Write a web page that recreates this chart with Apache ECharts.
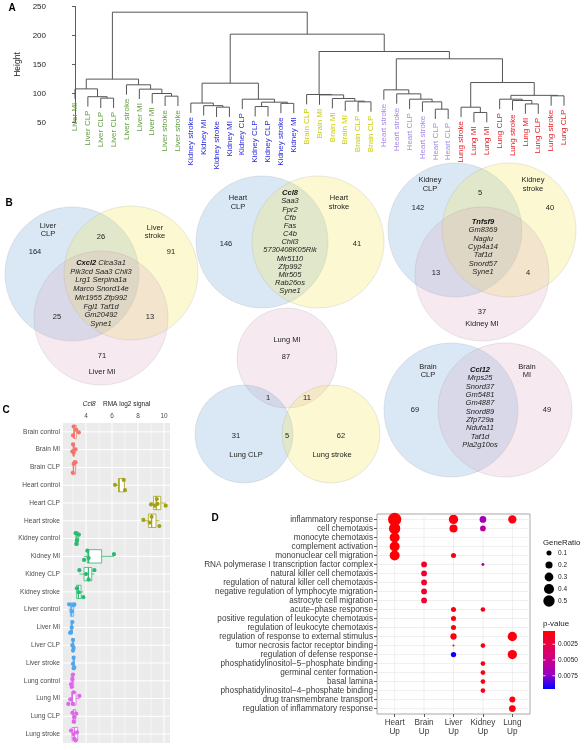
<!DOCTYPE html>
<html><head><meta charset="utf-8">
<script src="https://cdn.jsdelivr.net/npm/echarts@6/dist/echarts.min.js"></script>
<style>html,body{margin:0;padding:0;background:#fff}#c{width:584px;height:750px}</style>
</head><body><div id="c"></div>
<script>
// ================= DATA =================
// Panel A: dendrogram
const dendroLeaves = ['Liver MI','Liver CLP','Liver CLP','Liver CLP','Liver stroke','Liver MI','Liver MI','Liver stroke','Liver stroke',
  'Kidney stroke','Kidney MI','Kidney stroke','Kidney MI','Kidney CLP','Kidney CLP','Kidney CLP','Kidney stroke','Kidney MI',
  'Brain CLP','Brain MI','Brain MI','Brain MI','Brain CLP','Brain CLP',
  'Heart stroke','Heart stroke','Heart CLP','Heart stroke','Heart CLP','Heart CLP',
  'Lung stroke','Lung MI','Lung MI','Lung CLP','Lung stroke','Lung MI','Lung CLP','Lung stroke','Lung CLP'];
const dendroLiver = [[0,[1,[2,3,92],94.5],108],[4,[5,[6,[7,8,95.4],100],107.5],115],124.8];
const dendroKidney = [[9,[10,[11,12,76.5],79],83.5],[13,[[14,15,77.5],[16,17,83],85],90.2],117.8];
const dendroBrain = [18,[19,[20,[21,[22,23,85.6],86.8],91.4],97.6],98.3];
const dendroHeart = [24,[25,[26,[27,[28,29,73],85.6],90.2],99.4],106.3];
const dendroLung = [[30,[31,32,67.3],76.4],[[33,[34,[35,36,82],88],90.2],[37,38,96],96.8],118.9];
const dendroTree = [dendroLiver,[dendroKidney,[dendroBrain,[dendroHeart,dendroLung,159.8],172.4],202.3],240.2];
const dendroTicks = [50,100,150,200,250];

// Panel B: Venn diagrams  (counts: onlyA, onlyB, onlyC, AB, AC, BC)
const vennLiverNames = ['Liver\nCLP','Liver\nstroke','Liver MI'];
const vennLiverCounts = [164, 91, 71, 26, 25, 13];
const vennLiverGenes = ['Cxcl2 Clca3a1','Pik3cd Saa3 Chil3','Lrg1 Serpina1a','Marco Snord14e','Mir1955 Zfp992','Fgl1 Taf1d','Gm20492','Syne1'];
const vennHeartNames = ['Heart\nCLP','Heart\nstroke'];
const vennHeartCounts = [146, 41];
const vennHeartGenes = ['Ccl8','Saa3','Fpr2','Cfb','Fas','C4b','Chil3','5730408K05Rik','Mir5110','Zfp992','Mir505','Rab26os','Syne1'];
const vennKidneyNames = ['Kidney\nCLP','Kidney\nstroke','Kidney MI'];
const vennKidneyCounts = [142, 40, 37, 5, 13, 4];
const vennKidneyGenes = ['Tnfsf9','Gm8369','Naglu','Cyp4a14','Taf1d','Snord57','Syne1'];
const vennLungNames = ['Lung MI','Lung CLP','Lung stroke'];
const vennLungCounts = [87, 31, 62, 1, 11, 5];
const vennBrainNames = ['Brain\nCLP','Brain\nMI'];
const vennBrainCounts = [69, 49];
const vennBrainGenes = ['Ccl12','Mrps25','Snord37','Gm5481','Gm4887','Snord89','Zfp729a','Ndufa11','Taf1d','Pla2g10os'];

// Panel C: Ccl8 boxplots
const boxCategories = ['Brain control','Brain MI','Brain CLP','Heart control','Heart CLP','Heart stroke',
  'Kidney control','Kidney MI','Kidney CLP','Kidney stroke','Liver control','Liver MI','Liver CLP','Liver stroke',
  'Lung control','Lung MI','Lung CLP','Lung stroke'];
// [lower whisker, Q1, median, Q3, upper whisker]
const boxStats = [
  [3.0,3.05,3.1,3.25,3.45],[2.95,3.0,3.05,3.1,3.2],[2.97,3.02,3.05,3.2,3.22],
  [6.23,6.5,6.55,6.95,7.0],[9.0,9.2,9.4,9.75,10.13],[8.41,8.8,9.05,9.38,9.64],
  [3.18,3.22,3.3,3.4,3.5],[3.85,4.1,4.2,5.2,6.15],[3.49,3.85,4.18,4.44,4.64],[3.22,3.28,3.41,3.62,3.79],
  [2.66,2.8,2.9,3.05,3.1],[2.77,2.85,2.9,2.95,3.0],[2.9,2.95,3.0,3.05,3.1],[2.95,3.0,3.05,3.1,3.15],
  [2.82,2.86,2.95,3.05,3.1],[2.64,2.9,2.95,3.23,3.49],[2.95,3.0,3.05,3.2,3.25],[2.88,2.93,3.1,3.36,3.36]
];
// [category index, value, vertical jitter (fraction of band)]
const boxPoints = [
  [0,3.05,-0.3],[0,3.25,-0.12],[0,3.45,0.03],[0,3.0,0.2],
  [1,3.0,-0.3],[1,3.2,-0.02],[1,3.05,0.18],[1,2.95,0.1],
  [2,3.2,-0.28],[2,3.05,-0.2],[2,2.98,0.3],
  [3,6.23,-0.02],[3,7.0,0.28],[3,6.9,-0.3],
  [4,9.0,0.08],[4,9.3,0.15],[4,9.5,0.05],[4,10.13,0.15],[4,9.45,-0.22],
  [5,8.41,-0.05],[5,9.64,0.3],[5,9.05,-0.22],[5,8.9,0.1],
  [6,3.2,-0.3],[6,3.45,-0.22],[6,3.3,0.1],[6,3.25,0.3],
  [7,4.1,-0.32],[7,3.85,0.2],[7,6.15,-0.12],[7,4.2,0.1],
  [8,3.49,-0.22],[8,4.64,-0.22],[8,4.2,0.3],[8,4.0,0.0],
  [9,3.79,0.3],[9,3.3,-0.2],[9,3.45,0.02],
  [10,2.7,-0.3],[10,3.05,-0.25],[10,2.9,0.1],[10,3.1,-0.3],
  [11,2.95,-0.3],[11,2.9,0.0],[11,2.77,0.3],[11,2.85,0.25],
  [12,3.0,-0.3],[12,2.95,0.0],[12,3.05,0.15],[12,3.0,0.3],
  [13,3.05,-0.3],[13,3.0,0.05],[13,3.1,0.25],[13,3.05,0.3],
  [14,3.0,-0.35],[14,2.95,-0.1],[14,2.85,0.2],[14,2.9,0.35],
  [15,3.05,-0.35],[15,3.49,-0.15],[15,2.8,0.05],[15,2.64,0.3],[15,3.0,0.3],
  [16,2.95,-0.2],[16,3.25,-0.15],[16,3.1,0.05],[16,3.05,0.3],
  [17,2.85,-0.2],[17,3.3,-0.1],[17,3.1,0.25],[17,3.2,0.35],[17,3.05,0.0]
];
const boxTicks = [4,6,8,10];
const boxMinorTicks = [3,5,7,9];

// Panel D: GO enrichment dot plot
const goTerms = ['inflammatory response','cell chemotaxis','monocyte chemotaxis','complement activation','mononuclear cell migration',
  'RNA polymerase I transcription factor complex','natural killer cell chemotaxis','regulation of natural killer cell chemotaxis',
  'negative regulation of lymphocyte migration','astrocyte cell migration','acute\u2212phase response',
  'positive regulation of leukocyte chemotaxis','regulation of leukocyte chemotaxis','regulation of response to external stimulus',
  'tumor necrosis factor receptor binding','regulation of defense response','phosphatidylinositol\u22125\u2212phosphate binding',
  'germinal center formation','basal lamina','phosphatidylinositol\u22124\u2212phosphate binding','drug transmembrane transport',
  'regulation of inflammatory response'];
const goColumns = ['Heart\nUp','Brain\nUp','Liver\nUp','Kidney\nUp','Lung\nUp'];
// [column (1-5), term row (1-22), GeneRatio, p-value]
const goDots = [
  [1,1,0.69,0.0005],[1,2,0.50,0.0005],[1,3,0.39,0.0005],[1,4,0.39,0.0005],[1,5,0.39,0.0005],
  [2,6,0.13,0.0017],[2,7,0.13,0.0017],[2,8,0.13,0.0017],[2,9,0.13,0.0017],[2,10,0.13,0.0019],
  [3,1,0.34,0.0008],[3,2,0.25,0.0008],[3,5,0.10,0.0008],[3,11,0.10,0.0008],[3,12,0.10,0.0008],[3,13,0.10,0.0008],
  [3,14,0.155,0.0008],[3,15,0.016,0.0012],[3,16,0.11,0.0094],
  [4,1,0.175,0.0068],[4,2,0.127,0.0058],[4,6,0.035,0.0064],[4,11,0.086,0.0010],[4,15,0.086,0.0010],
  [4,17,0.086,0.0008],[4,18,0.086,0.0008],[4,19,0.086,0.0008],[4,20,0.086,0.0008],
  [5,1,0.27,0.0010],[5,14,0.34,0.0008],[5,16,0.34,0.0008],[5,21,0.14,0.0008],[5,22,0.175,0.0008]
];
const sizeBreaks = [0.1,0.2,0.3,0.4,0.5];
const pBreaks = [0.0025,0.0050,0.0075];
const pRange = [0.0004,0.0096];

// ================= RENDER =================
const FONT = '"Liberation Sans", Arial, Helvetica, sans-serif';
const chart = echarts.init(document.getElementById('c'), null, {renderer:'canvas', width:584, height:750});

const dendroColors = {Liver:'#66a043', Kidney:'#2a2ae0', Brain:'#cccc10', Heart:'#a68ae6', Lung:'#e8202a'};
const tissueColors = {Brain:'#F1756B', Heart:'#A3A11A', Kidney:'#2DB870', Liver:'#4FA6EE', Lung:'#DD66EA'};
const PCOLS = ['#FF0000','#E8004F','#C90089','#9A00C2','#0000FF'];
const sizeOf = v => 16*Math.sqrt(v);

// dendrogram segments
const HANG = 17;
const dendroSegs = [], leafEnds = [];
function lay(node){
  if (typeof node === 'number') return {x:node, h:null, leaf:true};
  const a = lay(node[0]), b = lay(node[1]), h = node[2];
  [a,b].forEach(ch => {
    if (ch.leaf){ dendroSegs.push([ch.x,h,ch.x,h-HANG]); leafEnds.push([ch.x,h-HANG]); }
    else dendroSegs.push([ch.x,h,ch.x,ch.h]);
  });
  dendroSegs.push([a.x,h,b.x,h]);
  return {x:(a.x+b.x)/2, h, leaf:false};
}
lay(dendroTree);

// ---------- graphic (Venns, legends, letters) ----------
const G = [];
const BLUE='rgba(100,160,215,0.24)', YEL='rgba(245,230,90,0.27)', PINK='rgba(215,160,185,0.22)';
function circ(cx,cy,r,fill){ G.push({type:'circle', silent:true, shape:{cx,cy,r}, style:{fill, stroke:'rgba(150,150,150,0.25)', lineWidth:0.8}}); }
function txt(x,y,text,size,extra){ G.push({type:'text', silent:true, x, y, style:Object.assign({text, fill:'#222', fontSize:size||7.5, fontFamily:FONT, align:'center', verticalAlign:'middle', lineHeight:8.6}, extra||{})}); }
function genes(x,top,list,lh){
  const lines = list.map((g,i)=>{
    if(i===0){ const p=g.split(' '); return '{b|'+p[0]+'}'+(p.length>1?'{i| '+p.slice(1).join(' ')+'}':''); }
    return '{i|'+g+'}';
  });
  G.push({type:'text', silent:true, x, y:top, style:{text:lines.join('\n'), align:'center', verticalAlign:'top',
    rich:{b:{fontFamily:FONT,fontSize:7.5,fontWeight:'bold',fontStyle:'italic',lineHeight:lh,fill:'#111'},
          i:{fontFamily:FONT,fontSize:7.5,fontStyle:'italic',lineHeight:lh,fill:'#222'}}}});
}
// Liver venn
circ(72,274,67,BLUE); circ(131,273,67,YEL); circ(101,318,67,PINK);
txt(48,230,vennLiverNames[0]); txt(155,232,vennLiverNames[1]); txt(102,372,vennLiverNames[2]);
txt(35,252,String(vennLiverCounts[0])); txt(171,252,String(vennLiverCounts[1])); txt(102,356,String(vennLiverCounts[2]));
txt(101,237,String(vennLiverCounts[3])); txt(57,317,String(vennLiverCounts[4])); txt(150,317,String(vennLiverCounts[5]));
genes(101,258.6,vennLiverGenes,8.7);
// Heart venn
circ(262,242,66,BLUE); circ(318,242,66,YEL);
txt(238,202.5,vennHeartNames[0]); txt(339,202.5,vennHeartNames[1]);
txt(226,244,String(vennHeartCounts[0])); txt(357,244,String(vennHeartCounts[1]));
genes(290,189,vennHeartGenes,8.17);
// Kidney venn
circ(455,230,67,BLUE); circ(509,230,67,YEL); circ(482,274,67,PINK);
txt(430,184.5,vennKidneyNames[0]); txt(533,184.5,vennKidneyNames[1]); txt(482,324,vennKidneyNames[2]);
txt(418,208,String(vennKidneyCounts[0])); txt(550,208,String(vennKidneyCounts[1])); txt(482,312,String(vennKidneyCounts[2]));
txt(480,193,String(vennKidneyCounts[3])); txt(436,273,String(vennKidneyCounts[4])); txt(528,273,String(vennKidneyCounts[5]));
genes(483,217.8,vennKidneyGenes,8.33);
// Lung venn
circ(287,358,50,PINK); circ(244,434,49,BLUE); circ(331,434,49,YEL);
txt(287,340,vennLungNames[0]); txt(246,455,vennLungNames[1]); txt(332,455,vennLungNames[2]);
txt(286,357,String(vennLungCounts[0])); txt(236,436,String(vennLungCounts[1])); txt(341,436,String(vennLungCounts[2]));
txt(268,398,String(vennLungCounts[3])); txt(307,398,String(vennLungCounts[4])); txt(287,436,String(vennLungCounts[5]));
// Brain venn
circ(451,410,67,BLUE); circ(505,410,67,PINK);
txt(428,371,vennBrainNames[0]); txt(527,371,vennBrainNames[1]);
txt(415,410,String(vennBrainCounts[0])); txt(547,410,String(vennBrainCounts[1]));
genes(480,365.8,vennBrainGenes,8.33);

// Panel letters
[['A',12,8],['B',9,203],['C',6,410],['D',215,518]].forEach(([t,x,y])=>txt(x,y,t,10,{fontWeight:'bold',fill:'#000'}));

// GeneRatio legend
txt(543,543,'GeneRatio',7.8,{align:'left'});
sizeBreaks.forEach((v,i)=>{
  const y = 553 + i*12;
  G.push({type:'circle', silent:true, shape:{cx:549, cy:y, r:sizeOf(v)/2}, style:{fill:'#000'}});
  txt(558,y,String(v),6.5,{align:'left'});
});
// p-value colorbar
txt(543,624,'p-value',8,{align:'left'});
const cbTop=631, cbH=58, cbX=543, cbW=12;
G.push({type:'rect', silent:true, shape:{x:cbX,y:cbTop,width:cbW,height:cbH},
  style:{fill:new echarts.graphic.LinearGradient(0,0,0,1, PCOLS.map((c,i)=>({offset:i/(PCOLS.length-1), color:c})))}});
pBreaks.forEach(p=>{
  const y = cbTop + (p-pRange[0])/(pRange[1]-pRange[0])*cbH;
  G.push({type:'line', silent:true, shape:{x1:cbX,y1:y,x2:cbX+2.5,y2:y}, style:{stroke:'#fff',lineWidth:0.8}});
  G.push({type:'line', silent:true, shape:{x1:cbX+cbW-2.5,y1:y,x2:cbX+cbW,y2:y}, style:{stroke:'#fff',lineWidth:0.8}});
  txt(558,y,p.toFixed(4),6.5,{align:'left'});
});

// ---------- series ----------
const catColor = i => tissueColors[boxCategories[i].split(' ')[0]];
const vLine = (col,w) => (params, api) => {
  const p = api.coord([api.value(0), api.value(1)]); const cs = params.coordSys;
  return {type:'line', silent:true, shape:{x1:p[0],y1:cs.y,x2:p[0],y2:cs.y+cs.height}, style:{stroke:col, lineWidth:(typeof w==='function')?w(api):w}};
};
const hLine = (col,w) => (params, api) => {
  const p = api.coord([api.value(0), api.value(1)]); const cs = params.coordSys;
  return {type:'line', silent:true, shape:{x1:cs.x,y1:p[1],x2:cs.x+cs.width,y2:p[1]}, style:{stroke:col, lineWidth:w}};
};
const range = n => Array.from({length:n},(_,i)=>i+1);

const option = {
  animation:false,
  backgroundColor:'#fff',
  textStyle:{fontFamily:FONT},
  grid:[
    {left:75, top:6.5, width:489, height:116},
    {left:63, top:423, width:107, height:320, show:true, backgroundColor:'#ebebeb', borderWidth:0},
    {left:377, top:514, width:153, height:200, show:true, backgroundColor:'#fff', borderColor:'#a8a8a8', borderWidth:1}
  ],
  xAxis:[
    {gridIndex:0, type:'value', min:0, max:38, show:false},
    {gridIndex:1, type:'value', min:2.23, max:10.46, position:'top',
     axisLine:{show:false}, splitLine:{show:false},
     axisTick:{customValues:boxTicks, length:2, lineStyle:{color:'#333', width:0.8}},
     axisLabel:{customValues:boxTicks, fontSize:6.5, color:'#4d4d4d', margin:3, fontFamily:FONT},
     name:'{i|Ccl8}    RMA log2 signal', nameLocation:'middle', nameGap:15,
     nameTextStyle:{fontSize:6.5, color:'#222', fontFamily:FONT, rich:{i:{fontStyle:'italic', fontSize:6.5, fontFamily:FONT, color:'#222'}}}},
    {gridIndex:2, type:'value', min:0.4, max:5.6,
     axisLine:{show:false}, splitLine:{show:false},
     axisTick:{customValues:range(5), length:3, lineStyle:{color:'#333', width:0.8}},
     axisLabel:{customValues:range(5), formatter:v=>goColumns[Math.round(v)-1], fontSize:8.2, lineHeight:9.3, color:'#3a3a3a', margin:4, fontFamily:FONT}}
  ],
  yAxis:[
    {gridIndex:0, type:'value', min:50, max:250, interval:50, offset:25,
     axisLine:{show:true, lineStyle:{color:'#333', width:0.8}},
     axisTick:{show:true, length:3, lineStyle:{color:'#333', width:0.8}},
     axisLabel:{fontSize:8, color:'#222', margin:4, fontFamily:FONT}, splitLine:{show:false},
     name:'Height', nameLocation:'middle', nameGap:24, nameRotate:90, nameTextStyle:{fontSize:8.5, color:'#222', fontFamily:FONT}},
    {gridIndex:1, type:'category', data:boxCategories, inverse:true,
     axisLine:{show:false}, splitLine:{show:false},
     axisTick:{alignWithLabel:true, length:2, interval:0, lineStyle:{color:'#333', width:0.8}},
     axisLabel:{fontSize:6.6, color:'#4d4d4d', margin:3, interval:0, fontFamily:FONT}},
    {gridIndex:2, type:'value', min:0.4, max:22.6, inverse:true,
     axisLine:{show:false}, splitLine:{show:false},
     axisTick:{customValues:range(22), length:3, lineStyle:{color:'#333', width:0.8}},
     axisLabel:{customValues:range(22), formatter:v=>goTerms[Math.round(v)-1], fontSize:8.2, color:'#3a3a3a', margin:4, fontFamily:FONT}}
  ],
  visualMap:[{type:'continuous', show:false, seriesIndex:8, dimension:3, min:pRange[0], max:pRange[1], inRange:{color:PCOLS}}],
  series:[
    {type:'custom', xAxisIndex:0, yAxisIndex:0, silent:true, data:dendroSegs, encode:{x:[0,2], y:[1,3]},
     renderItem:(params, api)=>{
       const p1 = api.coord([api.value(0),api.value(1)]), p2 = api.coord([api.value(2),api.value(3)]);
       return {type:'line', shape:{x1:p1[0],y1:p1[1],x2:p2[0],y2:p2[1]}, style:{stroke:'#555', lineWidth:1}};
     }},
    {type:'custom', xAxisIndex:0, yAxisIndex:0, silent:true, data:leafEnds, encode:{x:0, y:1},
     renderItem:(params, api)=>{
       const i = api.value(0); const p = api.coord([i, api.value(1)]); const name = dendroLeaves[i];
       return {type:'text', x:p[0], y:p[1]+4, rotation:Math.PI/2,
         style:{text:name, fill:dendroColors[name.split(' ')[0]], fontSize:8, fontFamily:FONT, align:'right', verticalAlign:'middle'}};
     }},
    {type:'custom', xAxisIndex:1, yAxisIndex:1, silent:true, z:1,
     data:boxTicks.map(v=>[v,0,1]).concat(boxMinorTicks.map(v=>[v,0,0])), encode:{x:0, y:1},
     renderItem:vLine('#ffffff', api=>api.value(2)?1:0.5)},
    {type:'custom', xAxisIndex:1, yAxisIndex:1, silent:true, z:1,
     data:boxCategories.map((c,i)=>[3,i]), encode:{x:0, y:1}, renderItem:hLine('#ffffff',1)},
    {type:'custom', xAxisIndex:1, yAxisIndex:1, silent:true, z:3,
     data:boxStats.map((s,i)=>[i].concat(s)), encode:{y:0, x:[1,2,3,4,5]},
     renderItem:(params, api)=>{
       const i = api.value(0); const band = api.size([0,1])[1]; const hh = band*0.375; const c = catColor(i);
       const pt = k => api.coord([api.value(k), i]);
       const a=pt(1), q1=pt(2), md=pt(3), q3=pt(4), b=pt(5), y=q1[1];
       return {type:'group', children:[
         {type:'line', shape:{x1:a[0],y1:y,x2:q1[0],y2:y}, style:{stroke:c,lineWidth:0.8}},
         {type:'line', shape:{x1:q3[0],y1:y,x2:b[0],y2:y}, style:{stroke:c,lineWidth:0.8}},
         {type:'rect', shape:{x:q1[0],y:y-hh,width:q3[0]-q1[0],height:2*hh}, style:{fill:'#fff',stroke:c,lineWidth:0.8}},
         {type:'line', shape:{x1:md[0],y1:y-hh,x2:md[0],y2:y+hh}, style:{stroke:c,lineWidth:1.2}}
       ]};
     }},
    {type:'custom', xAxisIndex:1, yAxisIndex:1, silent:true, z:4,
     data:boxPoints, encode:{y:0, x:1},
     renderItem:(params, api)=>{
       const i = api.value(0); const p = api.coord([api.value(1), i]); const band = api.size([0,1])[1];
       return {type:'circle', shape:{cx:p[0], cy:p[1]+api.value(2)*band, r:2.1}, style:{fill:catColor(i)}};
     }},
    {type:'custom', xAxisIndex:2, yAxisIndex:2, silent:true, z:1,
     data:range(5).map(v=>[v,1]), encode:{x:0, y:1}, renderItem:vLine('#ebebeb',0.8)},
    {type:'custom', xAxisIndex:2, yAxisIndex:2, silent:true, z:1,
     data:range(22).map(v=>[1,v]), encode:{x:0, y:1}, renderItem:hLine('#ebebeb',0.8)},
    {type:'scatter', xAxisIndex:2, yAxisIndex:2, z:3, data:goDots, encode:{x:0, y:1},
     symbolSize:v=>sizeOf(v[2]), itemStyle:{opacity:1}}
  ],
  graphic:{elements:G}
};
chart.setOption(option);
</script>
</body></html>
